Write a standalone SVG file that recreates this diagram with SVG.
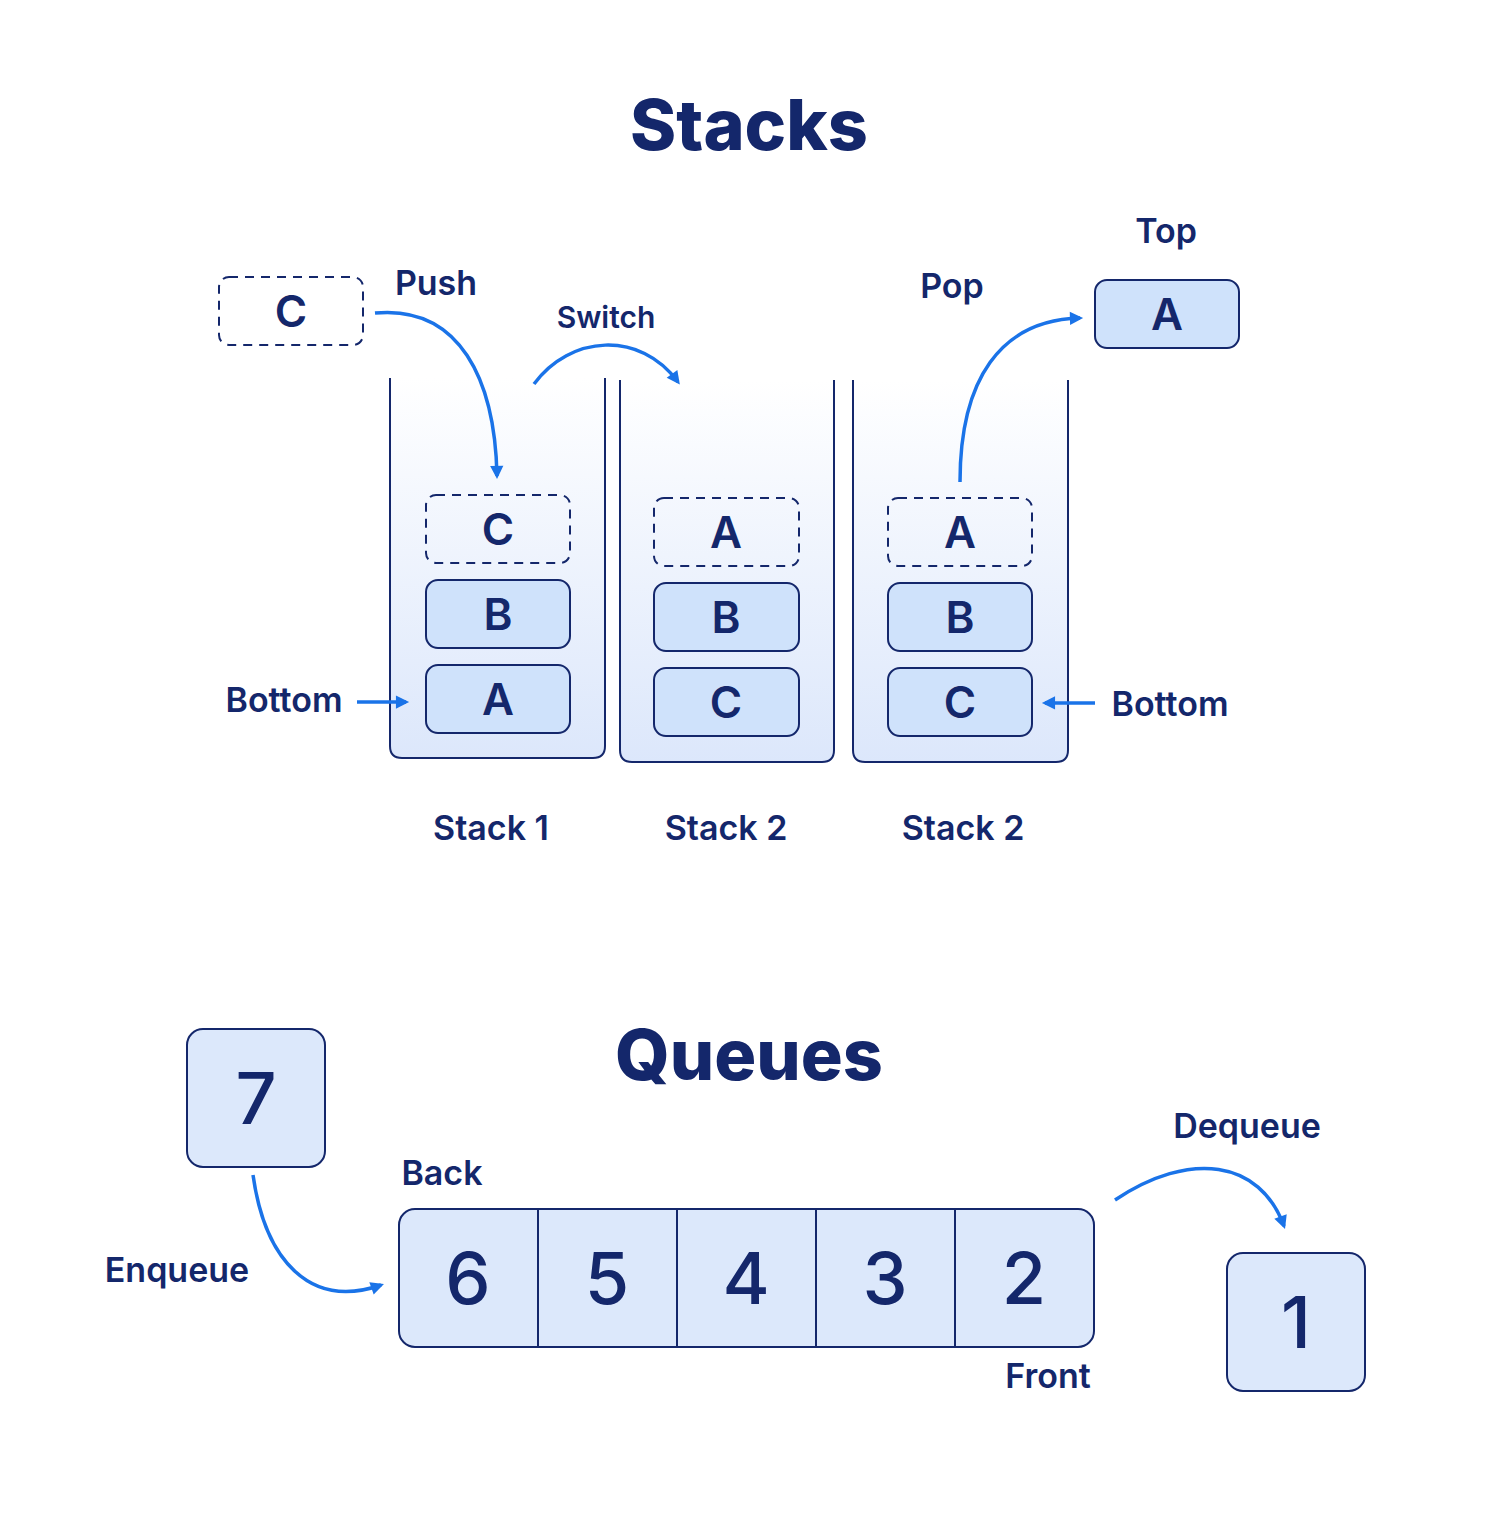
<svg xmlns="http://www.w3.org/2000/svg" width="1496" height="1538" viewBox="0 0 1496 1538">
<style>
text{font-family:Inter,"Liberation Sans",sans-serif;fill:#14276b;text-anchor:middle}
.t{font-size:70px;font-weight:800}
.l{font-size:34px;font-weight:600}
.s{font-size:30px;font-weight:600}
.b{font-size:44px;font-weight:600}
.q{font-size:72px;font-weight:500}
.blk{fill:#cfe2fb;stroke:#14276b;stroke-width:2}
.dash{fill:none;stroke:#14276b;stroke-width:2;stroke-dasharray:9 7}
.stk{fill:url(#g);stroke:#14276b;stroke-width:2}
.qb{fill:#dce8fb;stroke:#14276b;stroke-width:2}
.arr{fill:none;stroke:#1a73e8;stroke-width:3.5;marker-end:url(#m)}
</style>
<defs>
<linearGradient id="g" x1="0" y1="0" x2="0" y2="1"><stop offset="0" stop-color="#ffffff"/><stop offset="1" stop-color="#dce7fb"/></linearGradient>
<marker id="m" viewBox="0 0 10 10" refX="8" refY="5" markerWidth="6" markerHeight="6" orient="auto" markerUnits="userSpaceOnUse" style="overflow:visible"><path d="M0,0 L10,5 L0,10 z" fill="#1a73e8" transform="scale(2.2) translate(-4,-2.7)"/></marker>
</defs>
<text class="t" x="749" y="150">Stacks</text>
<g id="stack1"><path class="stk" d="M390,378 V746 Q390,758 402,758 H593 Q605,758 605,746 V378"/>
<rect class="dash" x="426" y="495" width="144" height="68" rx="10"/><text class="b" x="498" y="545">C</text>
<rect class="blk" x="426" y="580" width="144" height="68" rx="12"/><text class="b" x="498" y="630">B</text>
<rect class="blk" x="426" y="665" width="144" height="68" rx="12"/><text class="b" x="498" y="715">A</text>
<text class="l" x="491" y="840">Stack 1</text></g>
<g id="stack2"><path class="stk" d="M620,380 V750 Q620,762 632,762 H822 Q834,762 834,750 V380"/>
<rect class="dash" x="654" y="498" width="145" height="68" rx="10"/><text class="b" x="726" y="548">A</text>
<rect class="blk" x="654" y="583" width="145" height="68" rx="12"/><text class="b" x="726" y="633">B</text>
<rect class="blk" x="654" y="668" width="145" height="68" rx="12"/><text class="b" x="726" y="718">C</text>
<text class="l" x="726" y="840">Stack 2</text></g>
<g id="stack3"><path class="stk" d="M853,380 V750 Q853,762 865,762 H1056 Q1068,762 1068,750 V380"/>
<rect class="dash" x="888" y="498" width="144" height="68" rx="10"/><text class="b" x="960" y="548">A</text>
<rect class="blk" x="888" y="583" width="144" height="68" rx="12"/><text class="b" x="960" y="633">B</text>
<rect class="blk" x="888" y="668" width="144" height="68" rx="12"/><text class="b" x="960" y="718">C</text>
<text class="l" x="963" y="840">Stack 2</text></g>
<g id="pushC"><rect class="dash" x="219" y="277" width="144" height="68" rx="10"/><text class="b" x="291" y="327">C</text></g>
<g id="topA"><rect class="blk" x="1095" y="280" width="144" height="68" rx="12"/><text class="b" x="1167" y="330">A</text></g>
<g id="labels">
<text class="l" x="436" y="295">Push</text>
<text class="s" x="606" y="328">Switch</text>
<text class="l" x="952" y="298">Pop</text>
<text class="l" x="1166" y="243">Top</text>
<text class="l" x="284" y="712">Bottom</text>
<text class="l" x="1170" y="716">Bottom</text>
<text class="l" x="442" y="1185">Back</text>
<text class="l" x="1048" y="1388">Front</text>
<text class="l" x="177" y="1282">Enqueue</text>
<text class="l" x="1247" y="1138">Dequeue</text>
</g>
<text class="t" x="749" y="1080">Queues</text>
<g id="queue">
<rect class="qb" x="399" y="1209" width="695" height="138" rx="16"/>
<path d="M538,1209V1347M677,1209V1347M816,1209V1347M955,1209V1347" stroke="#14276b" stroke-width="2"/>
<text class="q" x="468" y="1304">6</text><text class="q" x="607" y="1304">5</text><text class="q" x="746" y="1304">4</text><text class="q" x="885" y="1304">3</text><text class="q" x="1024" y="1304">2</text>
</g>
<g id="box7"><rect class="qb" x="187" y="1029" width="138" height="138" rx="16"/><text class="q" x="256" y="1124">7</text></g>
<g id="box1"><rect class="qb" x="1227" y="1253" width="138" height="138" rx="16"/><text class="q" x="1296" y="1348">1</text></g>
<g id="connectors">
<path class="arr" d="M375,313 C460,305 495,380 497,476"/>
<path class="arr" d="M534,384 C570,335 640,330 678,382"/>
<path class="arr" d="M960,482 C960,380 1000,320 1080,318"/>
<path class="arr" d="M357,702 H406"/>
<path class="arr" d="M1095,703 H1045"/>
<path class="arr" d="M253,1175 C265,1260 310,1310 381,1285"/>
<path class="arr" d="M1115,1200 C1190,1150 1260,1160 1284,1226"/>
</g>
</svg>
